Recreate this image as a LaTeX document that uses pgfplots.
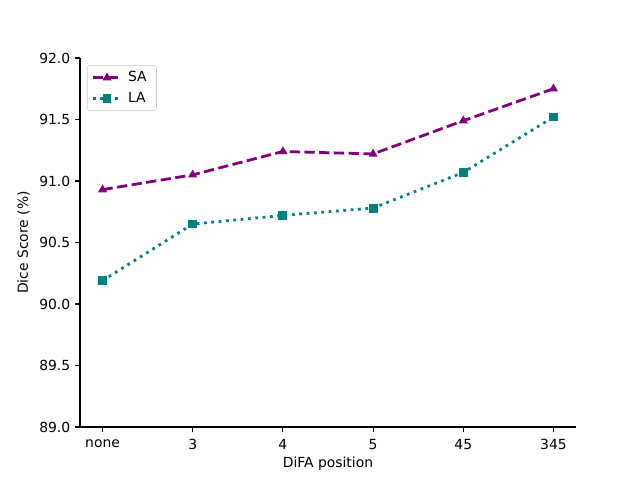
\documentclass[border=0pt]{standalone}
\usepackage{pgfplots}
\pgfplotsset{compat=1.18}
\usepackage{fontspec}
\setmainfont{DejaVu Sans}
\definecolor{sacol}{HTML}{800080}
\definecolor{lacol}{HTML}{008080}

\begin{document}
\begin{tikzpicture}
\path[use as bounding box] (0,0) rectangle (460.8pt,345.6pt);
\begin{axis}[
    at={(57.6pt,38.16pt)}, anchor=south west,
    scale only axis,
    width=357.12pt, height=265.68pt,
    xmin=-0.25, xmax=5.25,
    ymin=89, ymax=92,
    xtick={0,1,2,3,4,5},
    xticklabels={none,3,4,5,45,345},
    ytick={89,89.5,90,90.5,91,91.5,92},
    yticklabel style={/pgf/number format/.cd,fixed,fixed zerofill,precision=1},
    /pgf/number format/assume math mode=true,
    axis x line*=bottom, axis y line*=left,
    axis line style={-, line width=0.8pt},
    tick align=outside,
    major tick length=3.5pt,
    tick style={line width=0.8pt, black},
    xticklabel style={yshift=-2pt},
    xlabel style={yshift=2pt},
    xlabel={DiFA position},
    ylabel={Dice Score (\%)},
    font=\fontsize{10}{12}\selectfont,
    ticklabel style={font=\fontsize{10}{12}\selectfont},
    legend style={at={(0.014,0.981)}, anchor=north west, draw=black!20, rounded corners=2pt,
                  font=\fontsize{10}{12}\selectfont, inner xsep=3pt, inner ysep=3.5pt,
                  row sep=4pt, nodes={inner xsep=4pt, inner ysep=1pt}},
    legend cell align=left,
    legend image code/.code={\draw[mark repeat=2,mark phase=2] plot coordinates {(0cm,0cm) (0.36cm,0cm) (0.72cm,0cm)};},
]
\addplot[color=sacol, line width=2pt, dash pattern=on 7.4pt off 3.2pt,
         mark=triangle*, mark size=2.8pt, mark options={solid, fill=sacol, line width=1pt}]
coordinates {(0,90.93)(1,91.05)(2,91.24)(3,91.22)(4,91.49)(5,91.75)};
\addlegendentry{SA}
\addplot[color=lacol, line width=2pt, dash pattern=on 2pt off 3.3pt,
         mark=square*, mark size=2.7pt, mark options={solid, fill=lacol, line width=1pt}]
coordinates {(0,90.19)(1,90.65)(2,90.72)(3,90.78)(4,91.07)(5,91.52)};
\addlegendentry{LA}
\end{axis}
\end{tikzpicture}
\end{document}
